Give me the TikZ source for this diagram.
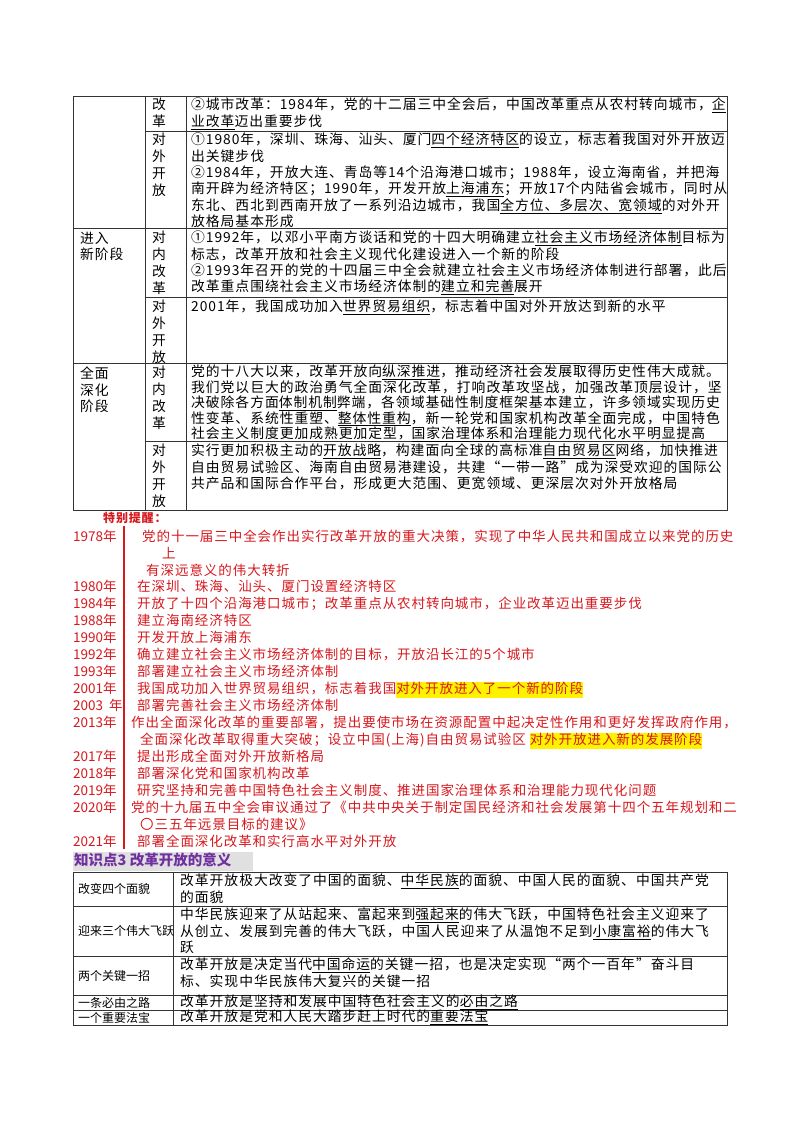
\documentclass[tikz,border=0pt]{standalone}
\usepackage{fontspec}
\setmainfont{Noto Sans CJK SC}[LetterSpace=7]
\newfontfamily\plainf{Noto Sans CJK SC}
\newcommand{\ulx}[1]{\underline{#1}}
\newcommand{\hl}[1]{{\setlength{\fboxsep}{0pt}\colorbox{yellow}{\strut #1}}}
\definecolor{myred}{RGB}{215,25,30}
\definecolor{mypurple}{RGB}{112,48,160}
\begin{document}
\begin{tikzpicture}[x=1pt,y=-1pt,
  grid/.style={draw=black!80,line width=0.8pt},
  txt/.style={anchor=north west,inner sep=0pt,align=left,font=\fontsize{13.8}{16.3}\selectfont},
  vtxt/.style={anchor=north,inner sep=0pt,align=center,font=\fontsize{13.8}{16.8}\selectfont},
  yr/.style={anchor=north west,inner sep=0pt,text=myred,font=\fontsize{13.5}{16}\selectfont}]
\useasboundingbox (0,0) rectangle (800,1132);
\fill[white] (0,0) rectangle (800,1132);
% table 1 grid
\draw[grid] (73,96) rectangle (727,510);
\draw[grid] (145,96) -- (145,510);
\draw[grid] (186,96) -- (186,510);
\draw[grid] (73,228) -- (727,228);
\draw[grid] (73,363) -- (727,363);
\draw[grid] (145,131) -- (727,131);
\draw[grid] (145,297) -- (727,297);
\draw[grid] (145,441) -- (727,441);
% col1
\node[txt] (c1a) at (80,232) {进入\\新阶段};
\node[txt] (c1b) at (80,367) {全面\\深化\\阶段};
% col2
\node[vtxt] (v1) at (159,98) {改\\革};
\node[vtxt] (v2) at (159,133) {对\\外\\开\\放};
\node[vtxt] (v3) at (159,231) {对\\内\\改\\革};
\node[vtxt] (v4) at (159,300) {对\\外\\开\\放};
\node[vtxt] (v5) at (159,366) {对\\内\\改\\革};
\node[vtxt] (v6) at (159,444) {对\\外\\开\\放};
% col3
\node[txt] (t1) at (191,98) {②城市改革：1984年，党的十二届三中全会后，中国改革重点从农村转向城市，\ulx{企}\\\ulx{业改革}迈出重要步伐};
\node[txt] (t2) at (191,133) {①1980年，深圳、珠海、汕头、厦门\ulx{四个经济特区}的设立，标志着我国对外开放迈\\出关键步伐\\②1984年，开放大连、青岛等14个沿海港口城市；1988年，设立海南省，并把海\\南开辟为经济特区；1990年，开发开放\ulx{上海浦东}；开放17个内陆省会城市，同时从\\东北、西北到西南开放了一系列沿边城市，我国\ulx{全方位、多层次、宽领域}的对外开\\放格局基本形成};
\node[txt] (t3) at (191,231) {①1992年，以邓小平南方谈话和党的十四大明确建立\ulx{社会主义市场经济体制}目标为\\标志，改革开放和社会主义现代化建设进入一个新的阶段\\②1993年召开的党的十四届三中全会就建立社会主义市场经济体制进行部署，此后\\改革重点围绕社会主义市场经济体制的\ulx{建立和完善}展开};
\node[txt] (t4) at (191,300) {2001年，我国成功加入\ulx{世界贸易组织}，标志着中国对外开放达到新的水平};
\node[txt,font=\fontsize{13.8}{15.4}\selectfont] (t5) at (191,365) {党的十八大以来，改革开放向\ulx{纵深推进}，推动经济社会发展取得历史性伟大成就。\\我们党以巨大的政治勇气全面深化改革，打响改革攻坚战，加强改革顶层设计，坚\\决破除各方面\ulx{体制机制}弊端，各领域基础性制度框架基本建立，许多领域实现历史\\性变革、系统性重塑、\ulx{整体性重构}，新一轮党和国家机构改革全面完成，中国特色\\社会主义制度更加成熟更加定型，\ulx{国家治理体系}和治理能力现代化水平明显提高};
\node[txt] (t6) at (191,444) {实行更加积极主动的\ulx{开放战略}，构建面向全球的高标准\ulx{自由贸易区}网络，加快推进\\自由贸易试验区、海南自由贸易港建设，共建“一带一路”成为深受欢迎的国际公\\共产品和国际合作平台，形成更大范围、更宽领域、更深层次对外开放格局};
% reminder
\node[anchor=north west,inner sep=0pt,text=myred,font=\fontsize{12}{14}\selectfont\bfseries] (tip) at (103,512) {特别提醒：};
\coordinate (la) at (124,526);
\coordinate (lb) at (124,849);
\draw[myred,line width=1.2pt] (la) -- (lb);
\foreach \y/\t in {530/1978年,580/1980年,597/1984年,614/1988年,631/1990年,648/1992年,665/1993年,682/2001年,699/2003\ \ 年,716/2013年,750/2017年,767/2018年,784/2019年,801/2020年,835/2021年}
  \node[yr,font=\plainf\fontsize{13.5}{16}\selectfont] at (73,\y) {\t};
\node[yr,align=left,font=\fontsize{13.5}{16.7}\selectfont] (r1) at (142,530) {党的十一届三中全会作出实行改革开放的重大决策，实现了中华人民共和国成立以来党的历史\\\hspace{20pt}上\\\hspace{4pt}有深远意义的伟大转折};
\node[yr] (r2) at (137,580) {在深圳、珠海、汕头、厦门设置经济特区};
\node[yr] (r3) at (137,597) {开放了十四个沿海港口城市；改革重点从农村转向城市，企业改革迈出重要步伐};
\node[yr] (r4) at (137,614) {建立海南经济特区};
\node[yr] (r5) at (137,631) {开发开放上海浦东};
\node[yr] (r6) at (137,648) {确立建立社会主义市场经济体制的目标，开放沿长江的5个城市};
\node[yr] (r7) at (137,665) {部署建立社会主义市场经济体制};
\node[yr] (r8) at (137,682) {我国成功加入世界贸易组织，标志着我国\hl{对外开放进入了一个新的阶段}};
\node[yr] (r9) at (137,699) {部署完善社会主义市场经济体制};
\node[yr,align=left,font=\fontsize{13.5}{16.7}\selectfont] (r10) at (131,716) {作出全面深化改革的重要部署，提出要使市场在资源配置中起决定性作用和更好发挥政府作用，\\\hspace{9pt}全面深化改革取得重大突破；设立中国(上海)自由贸易试验区 \hl{对外开放进入新的发展阶段}};
\node[yr] (r11) at (137,750) {提出形成全面对外开放新格局};
\node[yr] (r12) at (137,767) {部署深化党和国家机构改革};
\node[yr] (r13) at (137,784) {研究坚持和完善中国特色社会主义制度、推进国家治理体系和治理能力现代化问题};
\node[yr,align=left,font=\fontsize{13.5}{16.7}\selectfont] (r14) at (131,801) {党的十九届五中全会审议通过了《中共中央关于制定国民经济和社会发展第十四个五年规划和二\\\hspace{9pt}〇三五年远景目标的建议》};
\node[yr] (r15) at (137,835) {部署全面深化改革和实行高水平对外开放};
% knowledge point 3
\fill[black!12] (73,852) rectangle (253,871);
\node[anchor=north west,inner sep=0pt,text=mypurple,font=\plainf\fontsize{14.5}{16}\selectfont\bfseries] (kp) at (74,853) {知识点3\ 改革开放的意义};
\draw[grid] (73,872) rectangle (727,1025);
\draw[grid] (173,872) -- (173,1025);
\foreach \y in {906,956,995,1010} \draw[grid] (73,\y) -- (727,\y);
\tikzset{lab/.style={anchor=west,inner sep=0pt,font=\plainf\fontsize{12}{14}\selectfont}}
\node[lab] (k1) at (78,889) {改变四个面貌};
\node[lab] (k2) at (78,931) {迎来三个伟大飞跃};
\node[lab] (k3) at (78,975.5) {两个关键一招};
\node[lab] (k4) at (78,1002.5) {一条必由之路};
\node[lab] (k5) at (78,1017.5) {一个重要法宝};
\node[txt] (d1) at (180,874) {改革开放极大改变了中国的面貌、\ulx{中华民族}的面貌、中国人民的面貌、中国共产党\\的面貌};
\node[txt] (d2) at (180,908) {中华民族迎来了从站起来、富起来到\ulx{强起来}的伟大飞跃，中国特色社会主义迎来了\\从创立、发展到完善的伟大飞跃，中国人民迎来了从温饱不足到\ulx{小康富裕}的伟大飞\\跃};
\node[txt] (d3) at (180,958) {改革开放是决定当代\ulx{中国命运}的关键一招，也是决定实现“两个一百年”奋斗目\\标、实现中华民族伟大复兴的关键一招};
\node[txt,anchor=west] (d4) at (180,1002.5) {改革开放是坚持和发展中国特色社会主义的\ulx{必由之路}};
\node[txt,anchor=west] (d5) at (180,1017.5) {改革开放是党和人民大踏步赶上时代的\ulx{重要法宝}};
\end{tikzpicture}
\end{document}
